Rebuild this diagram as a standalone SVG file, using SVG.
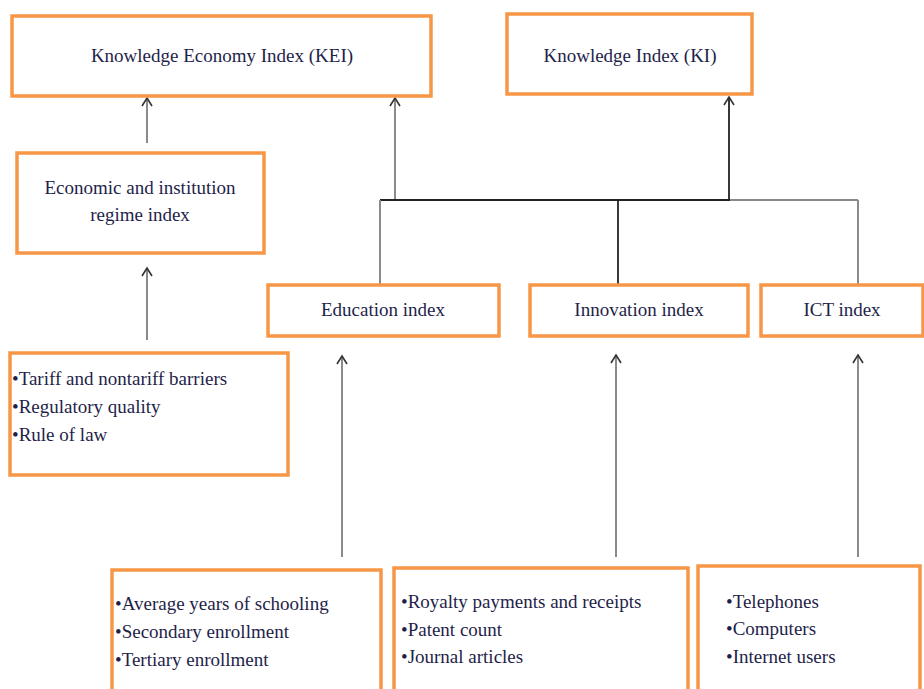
<svg xmlns="http://www.w3.org/2000/svg" width="924" height="689" viewBox="0 0 924 689">
<defs>
<style>
.box{fill:#fff;stroke:#F79646;stroke-width:3.5}
.t{font-size:19px;fill:#1f1f4a}
.c{text-anchor:middle}
.ln{stroke:#8a8a8a;stroke-width:2;fill:none}
.lk{stroke:#222;stroke-width:1.8;fill:none}
</style>
<marker id="ah" markerUnits="userSpaceOnUse" markerWidth="14" markerHeight="14" viewBox="-10 -7 14 14" refX="0" refY="0" orient="auto">
<path d="M-8,-5 L0,0 L-8,5" fill="none" stroke="#333" stroke-width="1.6"/>
</marker>
</defs>
<rect width="924" height="689" fill="#fff"/>
<g id="connectors">
<line class="ln" x1="147" y1="143" x2="147" y2="98" marker-end="url(#ah)"/>
<line class="ln" x1="147" y1="340" x2="147" y2="268" marker-end="url(#ah)"/>
<line class="ln" x1="395" y1="200" x2="395" y2="98" marker-end="url(#ah)"/>
<line class="lk" x1="729" y1="200" x2="729" y2="97" marker-end="url(#ah)"/>
<line class="lk" x1="380" y1="200" x2="730" y2="200"/>
<line class="ln" x1="730" y1="200" x2="858" y2="200"/>
<line class="ln" x1="380" y1="200" x2="380" y2="285"/>
<line class="lk" x1="618" y1="200" x2="618" y2="285"/>
<line class="ln" x1="858" y1="200" x2="858" y2="285"/>
<line class="ln" x1="342" y1="557" x2="342" y2="356" marker-end="url(#ah)"/>
<line class="ln" x1="616" y1="557" x2="616" y2="355" marker-end="url(#ah)"/>
<line class="ln" x1="858" y1="557" x2="858" y2="355" marker-end="url(#ah)"/>
</g>
<g font-family="Liberation Serif, Times New Roman, serif">
<g id="kei">
<rect class="box" x="12" y="16" width="419" height="80"/>
<text class="t c" x="222" y="62">Knowledge Economy Index (KEI)</text>
</g>
<g id="ki">
<rect class="box" x="507" y="14" width="245" height="80"/>
<text class="t c" x="630" y="62">Knowledge Index (KI)</text>
</g>
<g id="eco">
<rect class="box" x="17" y="153" width="247" height="100"/>
<text class="t c" x="140" y="194">Economic and institution</text>
<text class="t c" x="140" y="221">regime index</text>
</g>
<g id="tariff">
<rect class="box" x="10" y="353" width="278" height="122"/>
<text class="t" x="12" y="385">•Tariff and nontariff barriers</text>
<text class="t" x="12" y="413">•Regulatory quality</text>
<text class="t" x="12" y="441">•Rule of law</text>
</g>
<g id="education">
<rect class="box" x="268" y="285" width="231" height="51"/>
<text class="t c" x="383" y="316">Education index</text>
</g>
<g id="innovation">
<rect class="box" x="530" y="285" width="218" height="51"/>
<text class="t c" x="639" y="316">Innovation index</text>
</g>
<g id="ict">
<rect class="box" x="761" y="285" width="162" height="51"/>
<text class="t c" x="842" y="316">ICT index</text>
</g>
<g id="edu-items">
<rect class="box" x="112" y="570" width="269" height="125"/>
<text class="t" x="115" y="610">•Average years of schooling</text>
<text class="t" x="115" y="638">•Secondary enrollment</text>
<text class="t" x="115" y="666">•Tertiary enrollment</text>
</g>
<g id="inn-items">
<rect class="box" x="394" y="568" width="294" height="127"/>
<text class="t" x="401" y="608">•Royalty payments and receipts</text>
<text class="t" x="401" y="636">•Patent count</text>
<text class="t" x="401" y="663">•Journal articles</text>
</g>
<g id="ict-items">
<rect class="box" x="698" y="566" width="222" height="129"/>
<text class="t" x="726" y="608">•Telephones</text>
<text class="t" x="726" y="635">•Computers</text>
<text class="t" x="726" y="663">•Internet users</text>
</g>
</g>
</svg>
